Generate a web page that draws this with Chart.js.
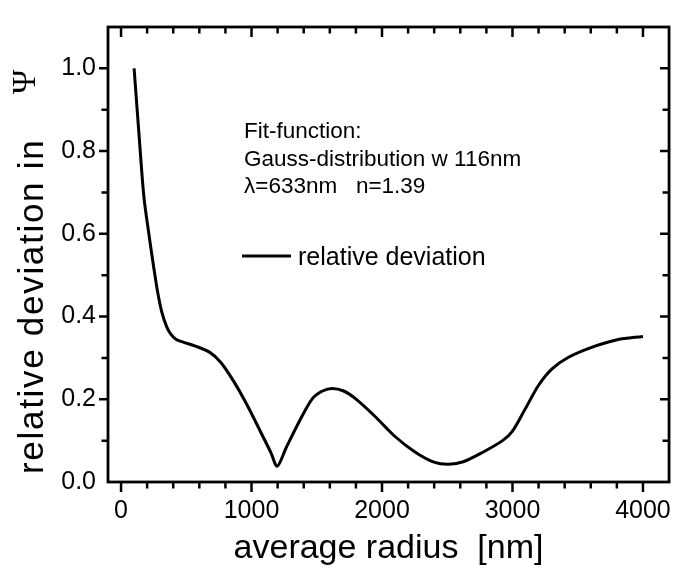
<!DOCTYPE html>
<html>
<head>
<meta charset="utf-8">
<script src="https://cdn.jsdelivr.net/npm/chart.js@4.4.1/dist/chart.umd.min.js"></script>
<style>
  html, body { margin: 0; padding: 0; background: #ffffff; }
  #wrap { width: 685px; height: 573px; }
</style>
</head>
<body>
<div id="wrap"><canvas id="chart" width="685" height="573"></canvas></div>
<script>
// Relative deviation of the fitted curve versus average particle radius
const radiusNm = [100, 140, 175, 213, 250, 280, 313, 350, 380, 420, 477, 565, 678, 765, 866, 966,
  1092, 1150, 1197, 1267, 1367, 1468, 1544, 1619, 1706, 1794, 1945, 2100, 2247, 2398, 2510,
  2623, 2773, 2924, 3000, 3100, 3200, 3301, 3426, 3601, 3803, 4000];
const relDeviation = [1.000, 0.830, 0.690, 0.600, 0.520, 0.460, 0.410, 0.375, 0.358, 0.345, 0.338,
  0.329, 0.314, 0.289, 0.242, 0.186, 0.107, 0.070, 0.038, 0.084, 0.147, 0.202, 0.220, 0.226,
  0.220, 0.202, 0.159, 0.110, 0.074, 0.048, 0.043, 0.049, 0.072, 0.100, 0.123, 0.178, 0.234,
  0.273, 0.301, 0.325, 0.344, 0.352];

const xTickValues = [0, 1000, 2000, 3000, 4000];
const yTickValues = [0.0, 0.2, 0.4, 0.6, 0.8, 1.0];
const xMinorStep = 200;
const yMinorStep = 0.1;

const noteLines = ['Fit-function:', 'Gauss-distribution w 116nm', '\u03bb=633nm   n=1.39'];
const seriesLabel = 'relative deviation';
const xTitle = 'average radius  [nm]';
const yTitle = 'relative deviation in';
const yTitleSymbol = '\u03a8';

const SANS = '"Liberation Sans", Arial, Helvetica, sans-serif';
const SERIF = '"Liberation Serif", "Times New Roman", serif';

// Frame, inward/outward tick marks, axis titles, note block and legend
const decorations = {
  id: 'decorations',
  afterDraw(chart) {
    const ctx = chart.ctx;
    const a = chart.chartArea;
    const xs = chart.scales.x, ys = chart.scales.y;
    ctx.save();
    ctx.strokeStyle = '#000';
    ctx.fillStyle = '#000';
    ctx.lineCap = 'butt';

    // ticks
    ctx.lineWidth = 2.5;
    const majorLen = 10, minorLen = 6.5;
    for (let v = 0; v <= xs.max + 1e-6; v += xMinorStep) {
      const px = xs.getPixelForValue(v);
      if (px > a.right - 1) continue;
      const len = xTickValues.includes(v) ? majorLen : minorLen;
      ctx.beginPath();
      ctx.moveTo(px, a.bottom); ctx.lineTo(px, a.bottom + len);
      ctx.moveTo(px, a.top); ctx.lineTo(px, a.top + len);
      ctx.stroke();
    }
    for (let i = 0; i * yMinorStep <= ys.max + 1e-6; i++) {
      const v = i * yMinorStep;
      const py = ys.getPixelForValue(v);
      if (py < a.top + 1 || py > a.bottom - 1) continue;
      const len = (i % 2 === 0) ? majorLen - 1 : minorLen;
      ctx.beginPath();
      ctx.moveTo(a.left - len, py); ctx.lineTo(a.left, py);
      ctx.moveTo(a.right - len, py); ctx.lineTo(a.right, py);
      ctx.stroke();
    }

    // frame
    ctx.lineWidth = 2.8;
    ctx.strokeRect(a.left, a.top, a.right - a.left, a.bottom - a.top);

    // x title
    ctx.font = '34px ' + SANS;
    ctx.textAlign = 'center';
    ctx.textBaseline = 'alphabetic';
    ctx.fillText(xTitle, (a.left + a.right) / 2, 558);

    // y title (rotated)
    ctx.save();
    ctx.translate(43, 474);
    ctx.rotate(-Math.PI / 2);
    ctx.textAlign = 'left';
    ctx.font = '35px ' + SANS;
    ctx.letterSpacing = '1.7px';
    ctx.fillText(yTitle, 0, 0);
    ctx.restore();
    ctx.save();
    ctx.translate(35, 94);
    ctx.rotate(-Math.PI / 2);
    ctx.textAlign = 'left';
    ctx.font = '33px ' + SERIF;
    ctx.fillText(yTitleSymbol, 0, 0);
    ctx.restore();

    // note block
    ctx.font = '22.5px ' + SANS;
    ctx.textAlign = 'left';
    const noteBaselines = [138, 166, 193];
    noteLines.forEach((t, i) => ctx.fillText(t, 244, noteBaselines[i]));

    // legend entry
    const ds = chart.data.datasets[0];
    ctx.strokeStyle = ds.borderColor;
    ctx.lineWidth = ds.borderWidth;
    ctx.beginPath();
    ctx.moveTo(242, 256); ctx.lineTo(291, 256);
    ctx.stroke();
    ctx.font = '25px ' + SANS;
    ctx.fillText(ds.label, 298, 265);

    ctx.restore();
  }
};

new Chart(document.getElementById('chart'), {
  type: 'line',
  data: {
    datasets: [{
      label: seriesLabel,
      data: radiusNm.map((r, i) => ({ x: r, y: relDeviation[i] })),
      borderColor: '#000000',
      borderWidth: 3,
      pointRadius: 0,
      fill: false,
      tension: 0.3
    }]
  },
  options: {
    responsive: false,
    devicePixelRatio: 1,
    animation: false,
    layout: { padding: { left: 0, top: 17, right: 5, bottom: 0 } },
    plugins: { legend: { display: false }, tooltip: { enabled: false }, title: { display: false } },
    scales: {
      x: {
        type: 'linear',
        min: -100,
        max: 4200,
        grid: { display: false, drawTicks: false },
        border: { display: false },
        afterBuildTicks: s => { s.ticks = xTickValues.map(v => ({ value: v })); },
        afterFit: s => { s.height = 91; },
        ticks: {
          color: '#000',
          font: { family: SANS, size: 25 },
          padding: 14,
          maxRotation: 0,
          callback: v => String(v)
        }
      },
      y: {
        type: 'linear',
        min: 0,
        max: 1.1,
        grid: { display: false, drawTicks: false },
        border: { display: false },
        afterBuildTicks: s => { s.ticks = yTickValues.map(v => ({ value: v })); },
        afterFit: s => { s.width = 108; },
        ticks: {
          color: '#000',
          font: { family: SANS, size: 25 },
          padding: 12,
          callback: v => Number(v).toFixed(1)
        }
      }
    }
  },
  plugins: [decorations]
});
</script>
</body>
</html>
